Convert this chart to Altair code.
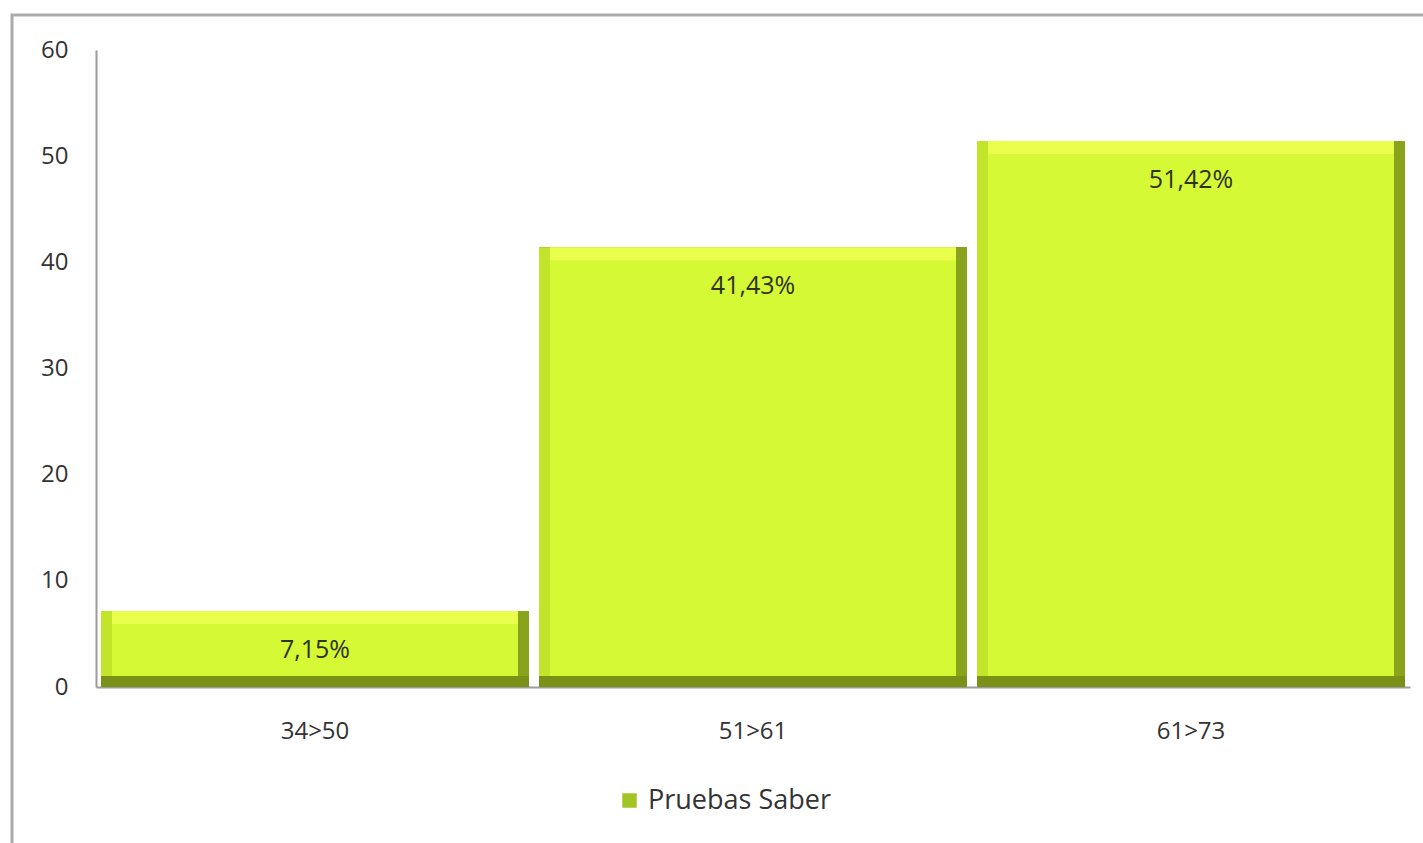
import altair as alt
import pandas as pd

categories = ["34>50", "51>61", "61>73"]
values = [7.15, 41.43, 51.42]
labels = ["7,15%", "41,43%", "51,42%"]
series_name = "Pruebas Saber"
y_ticks = [0, 10, 20, 30, 40, 50, 60]

df = pd.DataFrame({
    "cat": categories,
    "val": values,
    "label": labels,
    "serie": [series_name] * len(categories),
})

W, H = 1314, 637
BW = 428
FONT = "Open Sans"
YMAX = 60
PX = YMAX / H          # one pixel in data units
EDGE = 11 * PX         # bevel thickness (bottom)
TOPE = 13 * PX         # bevel thickness (top)

x = alt.X("cat:N", sort=categories, title=None,
          scale=alt.Scale(paddingInner=0, paddingOuter=0),
          axis=alt.Axis(labelPadding=32, labelFontSize=24, labelColor="#333333",
                        labelFont=FONT, ticks=False, domainColor="#9c9c9c",
                        domainWidth=2, labelAngle=0))
y = alt.Y("val:Q", title=None,
          scale=alt.Scale(domain=[0, YMAX], nice=False, zero=True),
          axis=alt.Axis(values=y_ticks, labelPadding=28, labelFontSize=24,
                        labelColor="#333333", labelFont=FONT, ticks=False,
                        grid=False, domainColor="#9c9c9c", domainWidth=2))

base = alt.Chart(df)

legend_layer = base.mark_bar(width=BW).encode(
    x=x, y=y,
    color=alt.Color("serie:N", scale=alt.Scale(range=["#a2c424"]),
                    legend=alt.Legend(title=None, orient="none", legendX=520, legendY=737,
                                      symbolType="square", symbolSize=210,
                                      symbolStrokeWidth=0, labelFontSize=27,
                                      labelLimit=0, labelOffset=5,
                                      labelFont=FONT, labelColor="#333333")))
bottom = base.mark_bar(width=BW, color="#7b9016").encode(x=x, y=y)
right = base.mark_bar(width=BW, color="#8aa31c").encode(x=x, y=y, y2=alt.Y2(datum=EDGE))
left = base.mark_bar(width=BW - 11, color="#c2e52b", xOffset=-5.5).encode(
    x=x, y=y, y2=alt.Y2(datum=EDGE))
top = base.mark_bar(width=BW - 22, color="#e9ff4c").encode(x=x, y=y, y2=alt.Y2(datum=EDGE))
face = base.transform_calculate(inner=f"datum.val - {TOPE}").mark_bar(
    width=BW - 22, color="#d6f936").encode(
    x=x, y=alt.Y("inner:Q"), y2=alt.Y2(datum=EDGE))
text = base.mark_text(dy=39, fontSize=25, color="#2f3319", font=FONT,
                      baseline="middle").encode(x=x, y=y, text="label:N")

frame = alt.Chart(pd.DataFrame({"a": [0]})).mark_rect(
    fillOpacity=0, stroke="#ababab", strokeWidth=3
).encode(x=alt.value(-84), x2=alt.value(1345), y=alt.value(-35), y2=alt.value(815))

chart = alt.layer(frame, legend_layer, bottom, right, left, top, face, text).properties(
    width=W, height=H,
    autosize=alt.AutoSizeParams(type="none"),
    padding={"left": 96, "top": 50, "right": 13, "bottom": 156},
    background="white",
).configure_view(strokeWidth=0)

chart.save("out.html", embed_options={"renderer": "svg", "actions": False})
